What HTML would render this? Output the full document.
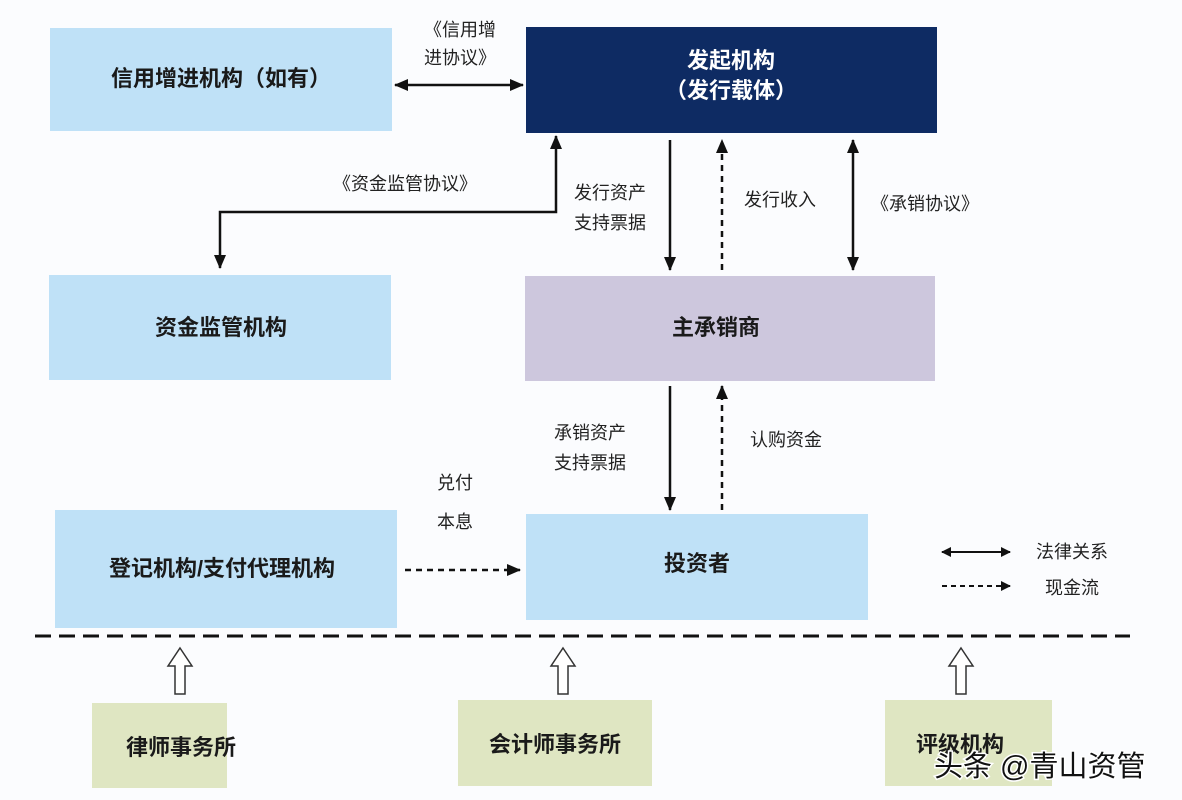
<!DOCTYPE html>
<html><head><meta charset="utf-8"><style>
html,body{margin:0;padding:0;background:#fbfcfe;}
svg{display:block;font-family:"Liberation Sans","Noto Sans CJK SC",sans-serif;}
.b{font-weight:bold;font-size:22px;fill:#1a1a1a;}
.l{font-size:18px;fill:#222;}
</style></head><body>
<svg width="1182" height="800" viewBox="0 0 1182 800" xmlns="http://www.w3.org/2000/svg">
<defs>
<marker id="a" markerWidth="14" markerHeight="12" refX="13" refY="6" orient="auto-start-reverse" markerUnits="userSpaceOnUse"><path d="M0,0 L14,6 L0,12 z" fill="#111"/></marker>
<marker id="s" markerWidth="10" markerHeight="10" refX="9" refY="5" orient="auto-start-reverse" markerUnits="userSpaceOnUse"><path d="M0,0 L10,5 L0,10 z" fill="#111"/></marker>
</defs>
<rect x="50" y="28" width="342" height="103" fill="#bfe1f7"/>
<rect x="526" y="27" width="411" height="106" fill="#0e2b63"/>
<rect x="49" y="275" width="342" height="105" fill="#bfe1f7"/>
<rect x="525" y="276" width="410" height="105" fill="#cdc7dd"/>
<rect x="55" y="510" width="342" height="118" fill="#bfe1f7"/>
<rect x="526" y="514" width="342" height="106" fill="#bfe1f7"/>
<rect x="92" y="703" width="135" height="85" fill="#dfe6c2"/>
<rect x="458" y="700" width="194" height="86" fill="#dfe6c2"/>
<rect x="885" y="700" width="167" height="86" fill="#dfe6c2"/>

<text class="b" x="221" y="86" text-anchor="middle">信用增进机构（如有）</text>
<text class="b" x="731" y="68" text-anchor="middle" style="fill:#fff">发起机构</text>
<text class="b" x="731" y="98" text-anchor="middle" style="fill:#fff">（发行载体）</text>
<text class="b" x="221" y="335" text-anchor="middle">资金监管机构</text>
<text class="b" x="716" y="335" text-anchor="middle">主承销商</text>
<text class="b" x="222" y="576" text-anchor="middle">登记机构/支付代理机构</text>
<text class="b" x="697" y="571" text-anchor="middle">投资者</text>
<text class="b" x="181" y="755" text-anchor="middle">律师事务所</text>
<text class="b" x="555" y="752" text-anchor="middle">会计师事务所</text>
<text class="b" x="960" y="752" text-anchor="middle">评级机构</text>

<g stroke="#111" stroke-width="2.5" fill="none">
<line x1="395" y1="85" x2="523" y2="85" marker-start="url(#a)" marker-end="url(#a)"/>
<polyline points="556,136 556,212 220,212 220,268" marker-start="url(#a)" marker-end="url(#a)"/>
<line x1="670" y1="140" x2="670" y2="270" marker-end="url(#a)"/>
<line x1="722" y1="270" x2="722" y2="140" stroke-dasharray="6,5" marker-end="url(#a)"/>
<line x1="853" y1="140" x2="853" y2="270" marker-start="url(#a)" marker-end="url(#a)"/>
<line x1="670" y1="386" x2="670" y2="510" marker-end="url(#a)"/>
<line x1="722" y1="510" x2="722" y2="386" stroke-dasharray="6,5" marker-end="url(#a)"/>
<line x1="405" y1="570" x2="520" y2="570" stroke-dasharray="6,5" marker-end="url(#a)"/>
<line x1="942" y1="552" x2="1010" y2="552" stroke-width="2" marker-start="url(#s)" marker-end="url(#s)"/>
<line x1="942" y1="586" x2="1010" y2="586" stroke-width="2" stroke-dasharray="5,4" marker-end="url(#s)"/>
<line x1="35" y1="636" x2="1130" y2="636" stroke-width="3" stroke-dasharray="16,8"/>
</g>
<g fill="#fff" stroke="#333" stroke-width="1.5">
<path d="M180,648 L192,666 L185,666 L185,694 L175,694 L175,666 L168,666 Z"/>
<path d="M563,648 L575,666 L568,666 L568,694 L558,694 L558,666 L551,666 Z"/>
<path d="M961,648 L973,666 L966,666 L966,694 L956,694 L956,666 L949,666 Z"/>
</g>

<text class="l" x="460" y="36" text-anchor="middle">《信用增</text>
<text class="l" x="460" y="64" text-anchor="middle">进协议》</text>
<text class="l" x="405" y="190" text-anchor="middle">《资金监管协议》</text>
<text class="l" x="610" y="199" text-anchor="middle">发行资产</text>
<text class="l" x="610" y="229" text-anchor="middle">支持票据</text>
<text class="l" x="780" y="206" text-anchor="middle">发行收入</text>
<text class="l" x="925" y="210" text-anchor="middle">《承销协议》</text>
<text class="l" x="590" y="439" text-anchor="middle">承销资产</text>
<text class="l" x="590" y="469" text-anchor="middle">支持票据</text>
<text class="l" x="786" y="446" text-anchor="middle">认购资金</text>
<text class="l" x="455" y="489" text-anchor="middle">兑付</text>
<text class="l" x="455" y="528" text-anchor="middle">本息</text>
<text class="l" x="1072" y="558" text-anchor="middle">法律关系</text>
<text class="l" x="1072" y="594" text-anchor="middle">现金流</text>

<text x="934" y="776" font-size="29" fill="#111" stroke="#fff" stroke-width="3" paint-order="stroke">头条 @青山资管</text>
</svg>
</body></html>
